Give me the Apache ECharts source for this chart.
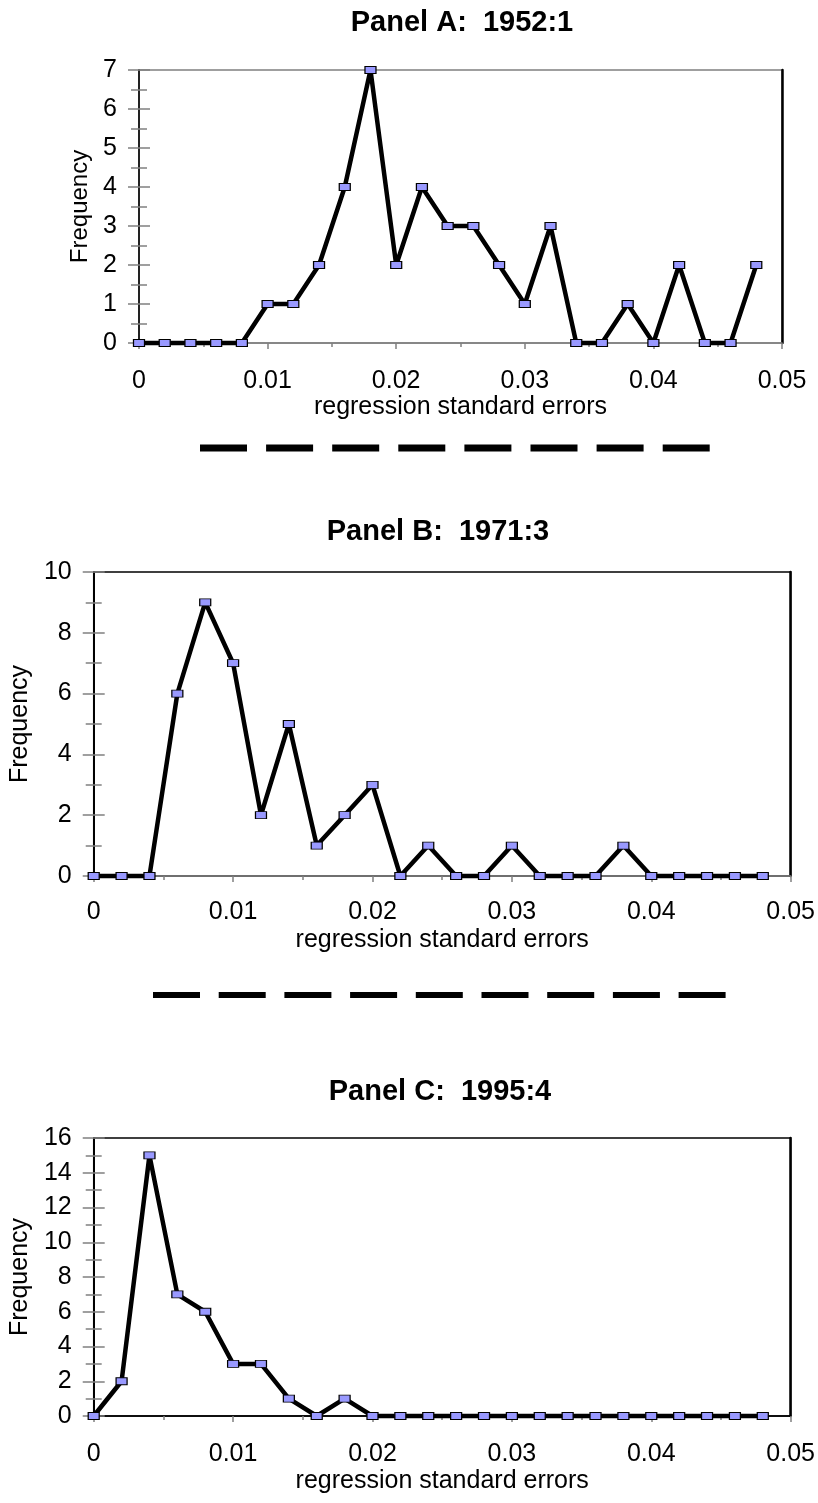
<!DOCTYPE html>
<html>
<head>
<meta charset="utf-8">
<script src="https://cdn.jsdelivr.net/npm/echarts@6/dist/echarts.min.js"></script>
<style>
html, body { margin: 0; padding: 0; background: #fff; }
#chart { width: 818px; height: 1503px; }
</style>
</head>
<body>
<div id="chart"></div>
<script>
const FONT = '"Liberation Sans", Arial, sans-serif';

// bin centres (regression standard errors)
const binCenters = [0, 0.002, 0.004, 0.006, 0.008, 0.010, 0.012, 0.014, 0.016, 0.018,
                    0.020, 0.022, 0.024, 0.026, 0.028, 0.030, 0.032, 0.034, 0.036, 0.038,
                    0.040, 0.042, 0.044, 0.046, 0.048];

const freqPanelA = [0, 0, 0, 0, 0, 1, 1, 2, 4, 7, 2, 4, 3, 3, 2, 1, 3, 0, 0, 1, 0, 2, 0, 0, 2];
const freqPanelB = [0, 0, 0, 6, 9, 7, 2, 5, 1, 2, 3, 0, 1, 0, 0, 1, 0, 0, 0, 1, 0, 0, 0, 0, 0];
const freqPanelC = [0, 2, 15, 7, 6, 3, 3, 1, 0, 1, 0, 0, 0, 0, 0, 0, 0, 0, 0, 0, 0, 0, 0, 0, 0];

const panelTitles = ['Panel A:  1952:1', 'Panel B:  1971:3', 'Panel C:  1995:4'];
const yMaxes = [7, 10, 16];
const yIntervals = [1, 2, 2];

// layout of each panel (pixels)
const panels = [
    { data: freqPanelA, left: 139, top: 70, right: 36, height: 273,
      titleX: 462, titleY: 23, labelMargin: 26, nameGap: 44, yNameGap: 43, yNameSize: 24,
      leftColor: '#222', bottomColor: '#808080', borderColor: '#808080',
      dash: { x1: 200, x2: 710, y: 448, w: 7, gap: 19.1 } },
    { data: freqPanelB, left: 92, top: 572, right: 26, height: 304,
      titleX: 438, titleY: 532, labelMargin: 24, nameGap: 52, yNameGap: 56, yNameSize: 25,
      leftColor: '#000', bottomColor: '#808080', borderColor: '#000',
      dash: { x1: 153, x2: 726, y: 995, w: 6, gap: 18.7 } },
    { data: freqPanelC, left: 92, top: 1138, right: 26, height: 278,
      titleX: 440, titleY: 1092, labelMargin: 26, nameGap: 53, yNameGap: 56, yNameSize: 25,
      leftColor: '#000', bottomColor: '#000', borderColor: '#000',
      dash: null }
];

const TICK = { color: '#808080', width: 1.5 };

function xLabel(v) {
    return v === 0 ? '0' : v.toFixed(2);
}

const grids = [];
const xAxes = [];
const yAxes = [];
const series = [];
const graphics = [];

panels.forEach(function(p, i) {
    grids.push({
        left: p.left, top: p.top, right: p.right, height: p.height,
        show: true, borderColor: p.borderColor, borderWidth: 1.5,
        backgroundColor: 'transparent'
    });

    const xBase = { gridIndex: i, type: 'value', min: 0, max: 0.05, interval: 0.01,
                    splitLine: { show: false } };
    // outer ticks + labels + name
    xAxes.push(Object.assign({}, xBase, {
        axisLine: { show: true, lineStyle: { color: p.bottomColor, width: 1.5 } },
        axisTick: { show: true, length: 6, lineStyle: TICK },
        minorTick: { show: true, splitNumber: 2, length: 4, lineStyle: TICK },
        axisLabel: { fontSize: 25, color: '#000', fontFamily: FONT,
                     margin: p.labelMargin, formatter: xLabel },
        name: 'regression standard errors', nameLocation: 'middle', nameGap: p.nameGap,
        nameTextStyle: { fontSize: 25, color: '#000', fontFamily: FONT }
    }));
    // inner ticks so the marks cross the axis
    xAxes.push(Object.assign({}, xBase, {
        axisLine: { show: false },
        axisTick: { show: true, inside: true, length: 6, lineStyle: TICK },
        minorTick: { show: true, splitNumber: 2, length: 4, lineStyle: TICK },
        axisLabel: { show: false }
    }));

    const yBase = { gridIndex: i, type: 'value', min: 0, max: yMaxes[i],
                    interval: yIntervals[i], splitLine: { show: false } };
    yAxes.push(Object.assign({}, yBase, {
        position: 'left',
        axisLine: { show: true, lineStyle: { color: p.leftColor, width: 2 } },
        axisTick: { show: true, length: 11, lineStyle: TICK },
        minorTick: { show: true, splitNumber: 2, length: 8, lineStyle: TICK },
        axisLabel: { fontSize: 25, color: '#000', fontFamily: FONT, margin: 22 },
        name: 'Frequency', nameLocation: 'middle', nameGap: p.yNameGap, nameRotate: 90,
        nameTextStyle: { fontSize: p.yNameSize, color: '#000', fontFamily: FONT }
    }));
    yAxes.push(Object.assign({}, yBase, {
        position: 'left',
        axisLine: { show: false },
        axisTick: { show: true, inside: true, length: 11, lineStyle: TICK },
        minorTick: { show: true, splitNumber: 2, length: 8, lineStyle: TICK },
        axisLabel: { show: false }
    }));
    // heavier right frame
    yAxes.push(Object.assign({}, yBase, {
        position: 'right',
        axisLine: { show: true, onZero: false, lineStyle: { color: '#000', width: 2.5 } },
        axisTick: { show: false },
        axisLabel: { show: false }
    }));

    series.push({
        type: 'line',
        xAxisIndex: i * 2,
        yAxisIndex: i * 3,
        data: binCenters.map((x, k) => [x, p.data[k]]),
        symbol: 'rect',
        symbolSize: [11, 7],
        clip: false,
        lineStyle: { color: '#000', width: 4.5 },
        itemStyle: { color: '#9999ff', borderColor: '#000', borderWidth: 1 },
        animation: false
    });

    graphics.push({
        type: 'text', x: p.titleX, y: p.titleY,
        style: { text: panelTitles[i], fill: '#000', fontFamily: FONT, fontSize: 29,
                 fontWeight: 'bold', align: 'center', verticalAlign: 'middle' }
    });

    if (p.dash) {
        graphics.push({
            type: 'line',
            shape: { x1: p.dash.x1, y1: p.dash.y, x2: p.dash.x2, y2: p.dash.y },
            style: { stroke: '#000', lineWidth: p.dash.w, lineDash: [47, p.dash.gap] }
        });
    }
});

const myChart = echarts.init(document.getElementById('chart'));
myChart.setOption({
    backgroundColor: '#fff',
    animation: false,
    grid: grids,
    xAxis: xAxes,
    yAxis: yAxes,
    series: series,
    graphic: graphics
});
</script>
</body>
</html>
